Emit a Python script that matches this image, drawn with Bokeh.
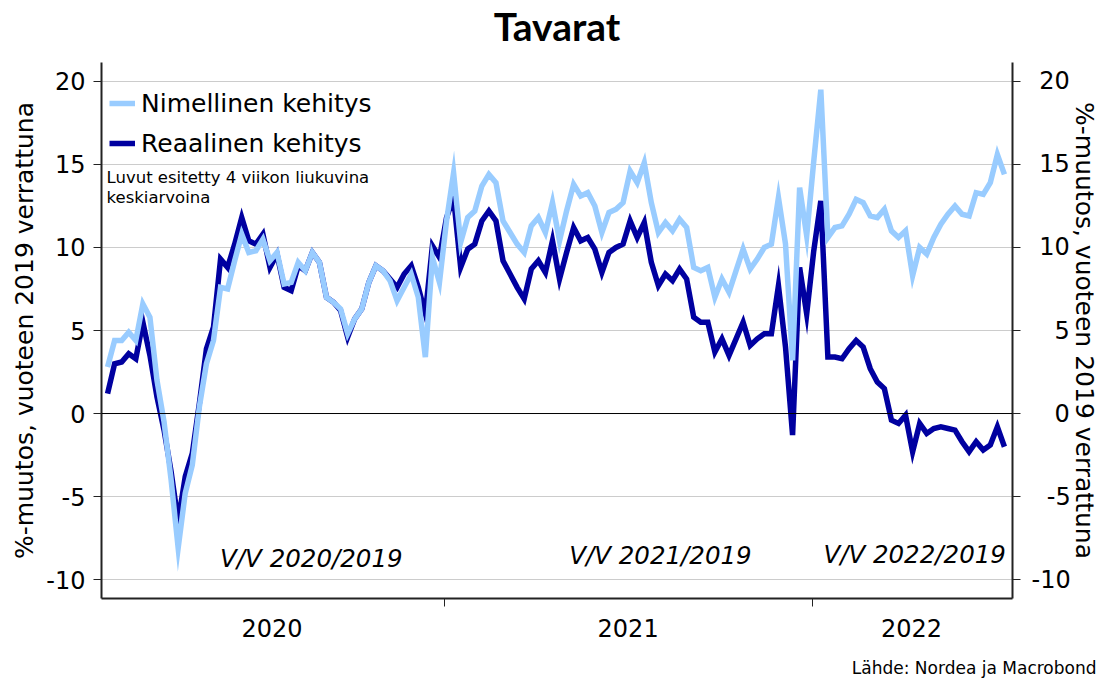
import pandas as pd
from bokeh.plotting import figure
from bokeh.models import (FixedTicker, LinearAxis, Range1d, Span, Label, Legend,
                          LegendItem, Title, DatetimeTickFormatter)
from bokeh.embed import file_html
from bokeh.resources import INLINE

FONT = "DejaVu Sans"
TITLE_FONT = "Lato"

# ---------------- data ----------------
start_date = "2020-02-02"
nominal = [
    2.8, 4.4, 4.4, 4.9, 4.4, 6.6, 5.8, 2.0, -0.5, -4.0,
    -8.1, -4.8, -3.1, 0.4, 3.0, 4.4, 7.6, 7.5, 9.2, 10.8,
    9.7, 9.8, 10.5, 9.2, 9.7, 7.8, 7.9, 9.1, 8.6, 9.7,
    9.1, 7.0, 6.7, 6.3, 4.8, 5.7, 6.3, 7.9, 8.9, 8.6,
    8.0, 6.8, 7.6, 8.4, 7.0, 3.4, 9.4, 7.9, 11.6, 14.5,
    10.3, 11.8, 12.2, 13.7, 14.4, 13.9, 11.6, 10.9, 10.2, 9.7,
    11.3, 11.8, 10.9, 12.7, 10.4, 12.2, 13.8, 13.1, 13.3, 12.5,
    10.9, 12.1, 12.3, 12.7, 14.6, 13.9, 15.1, 12.7, 10.9, 11.5,
    11.0, 11.7, 11.2, 8.8, 8.6, 8.8, 7.0, 8.1, 7.3, 8.6,
    9.9, 8.7, 9.3, 10.0, 10.2, 13.0, 10.2, 3.2, 13.6, 10.7,
    15.2, 19.5, 10.6, 11.2, 11.3, 12.0, 12.9, 12.7, 11.9, 11.8,
    12.3, 11.0, 10.6, 11.0, 8.3, 10.0, 9.6, 10.6, 11.4, 12.0,
    12.5, 12.0, 11.9, 13.3, 13.2, 13.9, 15.6, 14.4,
]
real = [
    1.2, 3.0, 3.1, 3.6, 3.3, 5.5, 3.5, 1.0, -1.0, -3.5,
    -6.5, -3.8, -2.4, 0.6, 3.9, 5.2, 9.3, 8.8, 10.2, 11.8,
    10.4, 10.2, 10.8, 8.8, 9.6, 7.6, 7.4, 8.9, 8.6, 9.7,
    9.1, 7.0, 6.7, 6.2, 4.6, 5.7, 6.3, 7.9, 8.9, 8.6,
    8.1, 7.6, 8.4, 8.9, 7.6, 6.0, 10.1, 9.4, 11.8, 13.0,
    8.8, 9.9, 10.2, 11.6, 12.2, 11.6, 9.2, 8.4, 7.6, 6.9,
    8.7, 9.2, 8.5, 10.4, 8.1, 9.7, 11.2, 10.4, 10.6, 9.9,
    8.5, 9.7, 10.0, 10.2, 11.6, 10.6, 11.5, 9.1, 7.7, 8.4,
    8.0, 8.7, 8.1, 5.8, 5.5, 5.5, 3.7, 4.5, 3.5, 4.5,
    5.5, 4.1, 4.5, 4.8, 4.8, 7.7, 4.0, -1.3, 8.8, 6.0,
    9.8, 12.8, 3.4, 3.4, 3.3, 3.9, 4.4, 4.0, 2.7, 1.9,
    1.5, -0.4, -0.6, -0.1, -2.3, -0.6, -1.2, -0.9, -0.8, -0.9,
    -1.0, -1.7, -2.3, -1.7, -2.2, -1.9, -0.8, -2.0,
]
dates = pd.date_range(start_date, periods=len(nominal), freq="7D")

title_text = "Tavarat"
source_text = "Lähde: Nordea ja Macrobond"
series_names = ["Nimellinen kehitys", "Reaalinen kehitys"]
y_ticks = [-10, -5, 0, 5, 10, 15, 20]
year_label_dates = ["2020-07-14", "2021-07-02", "2022-04-09"]
year_boundaries = ["2021-01-01", "2022-01-01"]
period_labels = ["V/V 2020/2019", "V/V 2021/2019", "V/V 2022/2019"]
period_label_dates = ["2020-08-22", "2021-08-03", "2022-04-12"]
period_label_y = [-8.73, -8.55, -8.52]
note_lines = ["Luvut esitetty 4 viikon liukuvina", "keskiarvoina"]
note_y = [14.19, 13.02]

LIGHT = "#99CCFF"
DARK = "#0000A0"

ts = lambda s: pd.Timestamp(s)

p = figure(frame_width=911, frame_height=536,
           x_axis_type="datetime",
           x_range=Range1d(ts("2020-01-27"), ts("2022-07-18")),
           y_range=Range1d(-11.14, 21.14),
           output_backend="svg", toolbar_location=None,
           min_border_left=101, min_border_right=88,
           min_border_top=62, min_border_bottom=80)
p.outline_line_color = None
p.background_fill_color = "white"
p.border_fill_color = "white"

# title + spacer between title and frame
p.title.text = title_text
p.title.text_font = TITLE_FONT
p.title.text_font_size = "39px"
p.title.text_font_style = "bold"
p.title.align = "center"
p.title.vertical_align = "top"
p.title.text_color = "black"
p.title.standoff = 0
p.add_layout(Title(text=" ", text_font_size="1px", standoff=9), "above")

# grid
p.xgrid.grid_line_color = None
p.ygrid.grid_line_color = "#cccccc"
p.ygrid.grid_line_width = 1
p.ygrid.ticker = FixedTicker(ticks=y_ticks)

# y axes
ylabel = "%-muutos, vuoteen 2019 verrattuna"
yl = p.yaxis[0]
right = LinearAxis()
p.add_layout(right, "right")
for ax in (yl, right):
    ax.ticker = FixedTicker(ticks=y_ticks)
    ax.axis_label = ylabel
    ax.axis_label_text_font = FONT
    ax.axis_label_text_font_size = "25px"
    ax.axis_label_text_font_style = "normal"
    ax.axis_label_text_color = "black"
    ax.major_label_text_font = FONT
    ax.major_label_text_font_size = "24px"
    ax.major_label_text_color = "black"
    ax.major_tick_out = 8
    ax.major_tick_in = 0
    ax.minor_tick_line_color = None
    ax.axis_line_color = "#222222"
    ax.axis_line_width = 2
    ax.major_tick_line_color = "#222222"
    ax.major_tick_line_width = 1
yl.major_label_standoff = 8
yl.axis_label_standoff = 4
yl.major_label_overrides = {t: str(t) for t in y_ticks}
right.major_label_standoff = 11
right.axis_label_standoff = -4
# right-aligned look for the right-hand tick labels
pad = {20: "\u2008", 15: "\u2008", 10: "\u2008", 5: "\u2007\u2008", 0: "\u2007\u2008",
       -5: "\u2007", -10: ""}
right.major_label_overrides = {t: pad[t] + str(t) for t in y_ticks}

# x axis
xa = p.xaxis[0]
xa.ticker = FixedTicker(ticks=[ts(d).value / 1e6 for d in year_label_dates],
                        minor_ticks=[ts(d).value / 1e6 for d in year_boundaries])
fmt = "%Y"
xa.formatter = DatetimeTickFormatter(microseconds=fmt, milliseconds=fmt, seconds=fmt,
                                     minsec=fmt, minutes=fmt, hourmin=fmt, hours=fmt,
                                     days=fmt, months=fmt, years=fmt)
xa.major_tick_line_color = None
xa.major_tick_out = 0
xa.major_tick_in = 0
xa.minor_tick_line_color = "#222222"
xa.minor_tick_out = 8
xa.minor_tick_in = 0
xa.major_label_standoff = 12
xa.major_label_text_font = FONT
xa.major_label_text_font_size = "24px"
xa.major_label_text_color = "black"
xa.axis_line_color = "#222222"
xa.axis_line_width = 2

# zero line
p.add_layout(Span(location=0, dimension="width", line_color="black", line_width=1))

# series (real first, nominal on top)
r_real = p.line(dates, real, line_color=DARK, line_width=5.5, line_join="miter")
r_nom = p.line(dates, nominal, line_color=LIGHT, line_width=5.5, line_join="miter")

legend = Legend(items=[LegendItem(label=series_names[0], renderers=[r_nom]),
                       LegendItem(label=series_names[1], renderers=[r_real])],
                location=(8, 536 - 26 - 70), padding=0, margin=0, spacing=10,
                glyph_width=26, glyph_height=30, label_height=30,
                label_standoff=6,
                label_text_font=FONT, label_text_font_size="25px",
                label_text_color="black",
                background_fill_alpha=0, border_line_alpha=0)
p.add_layout(legend)

# note
for t, yv in zip(note_lines, note_y):
    p.add_layout(Label(x=ts("2020-02-01"), y=yv, text=t,
                       text_font=FONT, text_font_size="16.5px", text_baseline="middle",
                       text_color="black"))

# period labels
for t, d, yv in zip(period_labels, period_label_dates, period_label_y):
    p.add_layout(Label(x=ts(d), y=yv, text=t, text_font=FONT, text_font_size="24.5px",
                       text_font_style="italic", text_align="center",
                       text_baseline="middle", text_color="black"))

# source: spacer below the axis, then the source line
p.add_layout(Title(text=" ", text_font_size="1px", standoff=13), "below")
p.add_layout(Title(text=source_text, align="right", text_font=FONT,
                   text_font_size="17px", text_font_style="normal", text_color="black",
                   offset=-84, standoff=0), "below")

open("out.html", "w").write(file_html(p, INLINE))
